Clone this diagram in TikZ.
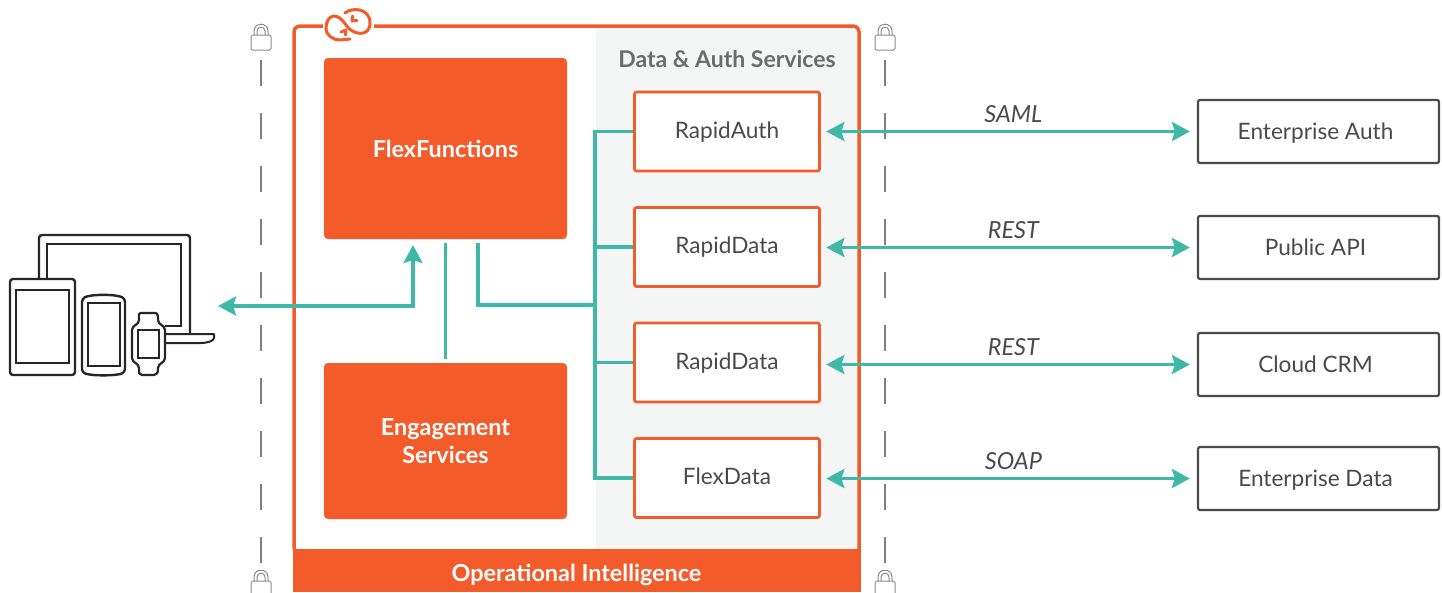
\documentclass[tikz,border=0pt]{standalone}
\usepackage{fontspec}
\setmainfont{Lato}
\usetikzlibrary{arrows.meta}

\definecolor{flexorange}{HTML}{F45B2B}
\definecolor{linkteal}{HTML}{3FB8A8}
\definecolor{panelgrey}{HTML}{F3F6F5}
\definecolor{textgrey}{HTML}{4A4A4A}
\definecolor{iconblack}{HTML}{262626}

\tikzset{
  padlock/.pic={
    \draw[draw=gray!90,line width=1pt,rounded corners=1.5pt] (-10,11) rectangle (10,26);
    \draw[draw=gray!90,line width=1pt] (-7,11) -- (-7,7) .. controls (-7,-2) and (7,-2) .. (7,7) -- (7,11);
    \draw[draw=gray!90,line width=1pt] (-4,11) -- (-4,7) .. controls (-4,2) and (4,2) .. (4,7) -- (4,11);
  }
}

\begin{document}
\begin{tikzpicture}[x=1pt,y=-1pt,>={Stealth[length=18pt,width=19pt,inset=3pt]},node distance=115.5pt,
    block/.style={rectangle,fill=flexorange,rounded corners=4pt,text=white,font=\fontsize{23.4}{28}\selectfont\bfseries,align=center,minimum width=243pt},
    service/.style={rectangle,draw=flexorange,line width=2.7pt,fill=white,rounded corners=2pt,text=textgrey,font=\fontsize{22.6}{26}\selectfont,minimum width=185pt,minimum height=79pt,text height=17pt,text depth=4pt},
    backend/.style={rectangle,draw=textgrey,line width=2.2pt,fill=white,rounded corners=2pt,text=textgrey,font=\fontsize{22.6}{26}\selectfont,minimum width=241pt,minimum height=63pt,text height=18pt,text depth=2pt,execute at end node=\hspace{6pt}},
    proto/.style={text=textgrey,font=\fontsize{23.5}{26}\selectfont\itshape,inner sep=0pt,text height=16pt,text depth=1pt},
    link/.style={draw=linkteal,line width=3.4pt},
    arrowlink/.style={link,<->,shorten >=7pt,shorten <=5.5pt},
    fence/.style={draw=gray,line width=1.5pt,dash pattern=on 26pt off 27pt},
    icon/.style={draw=iconblack,line width=2.4pt,rounded corners=3pt,line join=round},
    iconthin/.style={draw=iconblack,line width=1.6pt},
    logo/.style={draw=flexorange,line width=3pt,line cap=round,line join=round}]

    \useasboundingbox[fill=white] (0,0) rectangle (1442,592);
    \clip (0,0) rectangle (1442,592);

    % outer frame
    \fill[panelgrey] (596,27) rectangle (858,549);
    \draw[draw=flexorange,line width=3.5pt,rounded corners=6pt] (294,549) -- (294,26) -- (859,26) -- (859,549);
    \node[rectangle,fill=flexorange,text=white,font=\fontsize{23.4}{26}\selectfont\bfseries,minimum width=568pt,minimum height=43pt,text height=24pt,text depth=2pt] (intel) at (576.5,570.5) {Operational Intelligence};
    \node[text=gray!85!black,font=\fontsize{23}{26}\selectfont\bfseries] (datatitle) at (727,59) {Data \& Auth Services};

    % logo
    \fill[white] (323,15) rectangle (374,38);
    \draw[logo] (345,13) .. controls (352,7) and (370,8) .. (370,23)
      .. controls (370,38) and (352,35) .. (346,25)
      .. controls (342,19) and (338,16) .. (334,16)
      .. controls (329,16) and (326,22) .. (326,28)
      .. controls (326,36) and (334,40) .. (340,40)
      -- (350,39);
    \draw[logo] (341,32) -- (346,30) -- (345.5,35);
    \draw[logo] (357,20.5) -- (352,21) -- (352.5,16);

    % blocks
    \node[block,minimum height=181pt] (flex) at (445.5,148.5) {FlexFunctions};
    \node[block,minimum height=156pt] (engage) at (445.5,441) {Engagement\\Services};

    % services
    \node[service] (auth) at (727,131.5) {RapidAuth};
    \node[service] (data1) [below of = auth] {RapidData};
    \node[service] (data2) [below of = data1] {RapidData};
    \node[service] (flexdata) [below of = data2] {FlexData};

    % backends
    \node[backend] (entauth) at (1318.5,131.5) {Enterprise Auth};
    \node[backend] (pubapi) at (1318.5,247.5) {Public API};
    \node[backend] (crm) at (1318.5,364.5) {Cloud CRM};
    \node[backend] (entdata) at (1318.5,478.5) {Enterprise Data};

    % fences
    \draw[fence] (261,60) -- (261,563);
    \draw[fence] (885,60) -- (885,563);
    \pic at (261,24) {padlock};
    \pic at (885,24) {padlock};
    \pic at (261,570) {padlock};
    \pic at (885,570) {padlock};

    % devices
    \draw[icon] (39,279) -- (39,235) -- (190,235) -- (190,334);
    \draw[iconthin] (47,279) -- (47,244) -- (181,244) -- (181,326) -- (165,326);
    \draw[iconblack,line width=2pt,line join=round] (165,334) -- (214,334) -- (214,338) .. controls (214,341) and (207,343) .. (201,343) -- (165,343);
    \draw[icon,fill=white] (10,279) rectangle (75,375);
    \draw[iconthin] (16,290) rectangle (69,363);
    \draw[icon,fill=white] (82,299) .. controls (90,294) and (117,294) .. (125,299) -- (125,372) .. controls (117,376) and (90,376) .. (82,372) -- cycle;
    \draw[iconthin] (88,303) rectangle (120,366);
    \draw[iconblack,line width=2.2pt,fill=white,line join=round] (141,313) -- (155,313) .. controls (158,313) and (158,316) .. (158,320)
      .. controls (158,325) and (165,325) .. (165,330) -- (165,358) .. controls (165,363) and (158,363) .. (158,368)
      .. controls (158,373) and (157,375) .. (154,375) -- (142,375) .. controls (139,375) and (139,373) .. (139,368)
      .. controls (139,363) and (132,363) .. (132,358) -- (132,330) .. controls (132,325) and (139,325) .. (139,320)
      .. controls (139,316) and (138,313) .. (141,313) -- cycle;
    \draw[iconthin] (138,330) rectangle (159,358);
    \coordinate (devices) at (218,306);

    % links
    \coordinate (hub) at (595,305);
    \draw[link] (auth.west) -- (auth.west -| hub) -- (flexdata.west -| hub) -- (flexdata.west);
    \draw[link] (data1.west) -- (data1.west -| hub);
    \draw[link] (data2.west) -- (data2.west -| hub);
    \draw[link] (478,243) -- (478,305) -- (hub);
    \draw[link] ([yshift=4pt]engage.north) -- ([yshift=-4pt]flex.south);
    \draw[link,<->] (devices) -- (413,306) -- (413,245);

    \draw[arrowlink] (auth.east |- entauth.west) -- node[proto,pos=.512,above=6pt] (saml) {SAML} (entauth.west);
    \draw[arrowlink] (data1.east |- pubapi.west) -- node[proto,pos=.512,above=6pt] (rest1) {REST} (pubapi.west);
    \draw[arrowlink] (data2.east |- crm.west) -- node[proto,pos=.512,above=6pt] (rest2) {REST} (crm.west);
    \draw[arrowlink] (flexdata.east |- entdata.west) -- node[proto,pos=.512,above=6pt] (soap) {SOAP} (entdata.west);

\end{tikzpicture}
\end{document}
